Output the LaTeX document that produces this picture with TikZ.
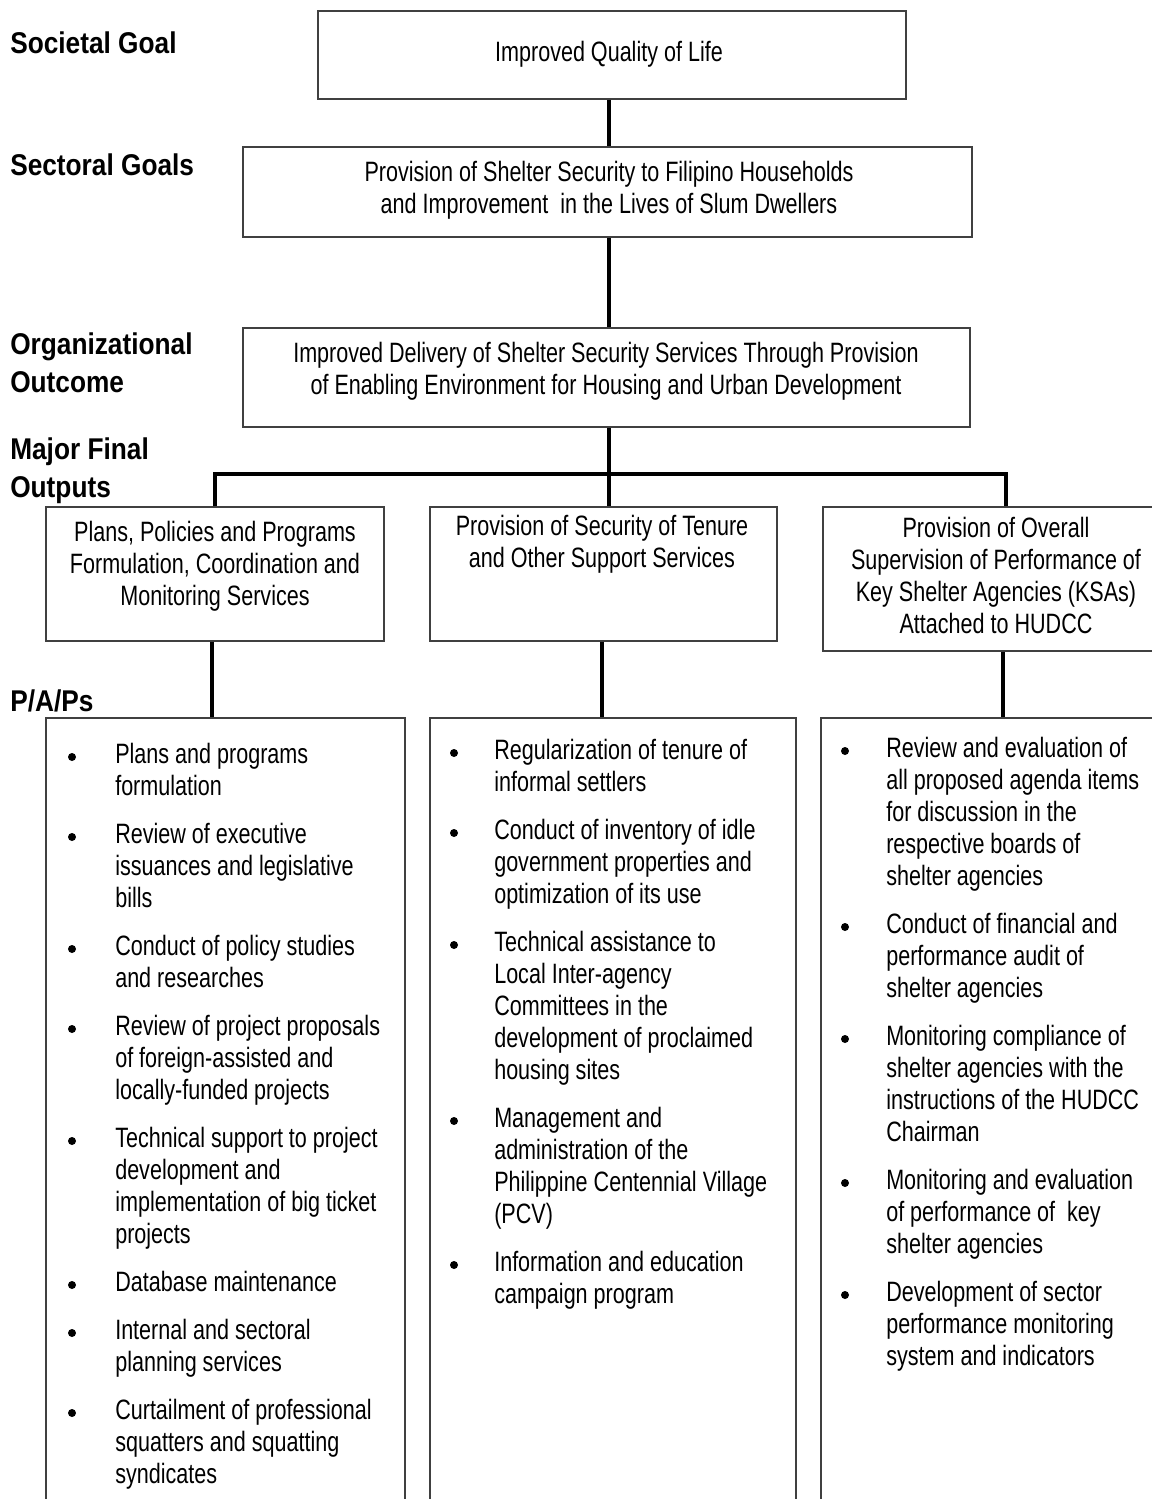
\documentclass[tikz,border=0pt]{standalone}
\usepackage{fontspec}
\setmainfont{Liberation Sans}[FakeStretch=0.77]
\newfontfamily\headfont{Liberation Sans}[FakeStretch=0.875]
\newcommand\bodyfont{\fontsize{21}{24}\selectfont}
\newcommand\hfont{\headfont\bfseries\fontsize{22.5}{29}\selectfont}
\newcommand\lft[1]{\begin{tabular}[t]{@{}l@{}}#1\end{tabular}}
\newcommand\ctr[1]{\begin{tabular}[t]{@{}c@{}}#1\end{tabular}}
\tikzset{
  box/.style={draw=black!75, line width=1.1pt, inner sep=0pt},
  conn/.style={draw=black, line width=2.3pt},
  txt/.style={anchor=base, inner sep=0pt, font=\bodyfont},
  itm/.style={anchor=base west, inner sep=0pt, font=\bodyfont},
  bul/.style={circle, fill=black, inner sep=0pt, minimum size=6pt},
  head/.style={anchor=base west, inner sep=0pt, font=\hfont},
}
\begin{document}
\begin{tikzpicture}[x=0.75pt, y=-0.75pt]
\useasboundingbox (0,0) rectangle (1152,1499);

% boxes
\node[box, minimum width=588*0.75pt, minimum height=88*0.75pt] (b1) at (612,55) {};
\node[box, minimum width=729*0.75pt, minimum height=90*0.75pt] (b2) at (607.5,192) {};
\node[box, minimum width=727*0.75pt, minimum height=99*0.75pt] (b3) at (606.5,377.5) {};
\node[box, minimum width=338*0.75pt, minimum height=134*0.75pt] (b4) at (215,574) {};
\node[box, minimum width=347*0.75pt, minimum height=134*0.75pt] (b5) at (603.5,574) {};
\node[box, minimum width=337*0.75pt, minimum height=144*0.75pt] (b6) at (991.5,579) {};
\node[box, minimum width=359*0.75pt, minimum height=800*0.75pt] (b7) at (225.5,1118) {};
\node[box, minimum width=366*0.75pt, minimum height=800*0.75pt] (b8) at (613,1118) {};
\node[box, minimum width=339*0.75pt, minimum height=800*0.75pt] (b9) at (990.5,1118) {};

% connector reference coordinates
\coordinate (trunk) at (609,0);
\coordinate (bar) at (0,474);
\coordinate (dropL) at (215,0);
\coordinate (dropR) at (1006,0);
\coordinate (lowL) at (212,0);
\coordinate (lowM) at (602,0);
\coordinate (lowR) at (1003,0);

% connectors
\draw[conn] (b1.south -| trunk) -- (b2.north -| trunk);
\draw[conn] (b2.south -| trunk) -- (b3.north -| trunk);
\draw[conn] (b3.south -| trunk) -- (b5.north -| trunk);
\draw[conn, line join=miter] (b4.north -| dropL) -- (bar -| dropL) -- (bar -| dropR) -- (b6.north -| dropR);
\draw[conn] (b4.south -| lowL) -- (b7.north -| lowL);
\draw[conn] (b5.south -| lowM) -- (b8.north -| lowM);
\draw[conn] (b6.south -| lowR) -- (b9.north -| lowR);

% headings
\node[head] (h1) at (10,53) {Societal Goal};
\node[head] (h2) at (10,175) {Sectoral Goals};
\node[head] (h3) at (10,354) {\lft{Organizational\\Outcome}};
\node[head] (h4) at (10,459) {\lft{Major Final\\Outputs}};
\node[head] (h5) at (10,711) {P/A/Ps};

% box texts
\node[txt] (t1) at (609,61) {Improved Quality of Life};
\node[txt] (t2) at (609,181) {\ctr{Provision of Shelter Security to Filipino Households\\and Improvement\ \ in the Lives of Slum Dwellers}};
\node[txt] (t3) at (606,362) {\ctr{Improved Delivery of Shelter Security Services Through Provision\\of Enabling Environment for Housing and Urban Development}};
\node[txt] (t4) at (215,541) {\ctr{Plans, Policies and Programs\\Formulation, Coordination and\\Monitoring Services}};
\node[txt] (t5) at (602,535) {\ctr{Provision of Security of Tenure\\and Other Support Services}};
\node[txt] (t6) at (996,537) {\ctr{Provision of Overall\\Supervision of Performance of\\Key Shelter Agencies (KSAs)\\Attached to HUDCC}};

% column 1 items
\node[bul] (d1a) at (72,757) {};
\node[itm] (i1a) at (115,763) {\lft{Plans and programs\\formulation}};
\node[bul] (d1b) at (72,837) {};
\node[itm] (i1b) at (115,843) {\lft{Review of executive\\issuances and legislative\\bills}};
\node[bul] (d1c) at (72,949) {};
\node[itm] (i1c) at (115,955) {\lft{Conduct of policy studies\\and researches}};
\node[bul] (d1d) at (72,1029) {};
\node[itm] (i1d) at (115,1035) {\lft{Review of project proposals\\of foreign-assisted and\\locally-funded projects}};
\node[bul] (d1e) at (72,1141) {};
\node[itm] (i1e) at (115,1147) {\lft{Technical support to project\\development and\\implementation of big ticket\\projects}};
\node[bul] (d1f) at (72,1285) {};
\node[itm] (i1f) at (115,1291) {\lft{Database maintenance}};
\node[bul] (d1g) at (72,1333) {};
\node[itm] (i1g) at (115,1339) {\lft{Internal and sectoral\\planning services}};
\node[bul] (d1h) at (72,1413) {};
\node[itm] (i1h) at (115,1419) {\lft{Curtailment of professional\\squatters and squatting\\syndicates}};

% column 2 items
\node[bul] (d2a) at (454,753) {};
\node[itm] (i2a) at (494,759) {\lft{Regularization of tenure of\\informal settlers}};
\node[bul] (d2b) at (454,833) {};
\node[itm] (i2b) at (494,839) {\lft{Conduct of inventory of idle\\government properties and\\optimization of its use}};
\node[bul] (d2c) at (454,945) {};
\node[itm] (i2c) at (494,951) {\lft{Technical assistance to\\Local Inter-agency\\Committees in the\\development of proclaimed\\housing sites}};
\node[bul] (d2d) at (454,1121) {};
\node[itm] (i2d) at (494,1127) {\lft{Management and\\administration of the\\Philippine Centennial Village\\(PCV)}};
\node[bul] (d2e) at (454,1265) {};
\node[itm] (i2e) at (494,1271) {\lft{Information and education\\campaign program}};

% column 3 items
\node[bul] (d3a) at (845,751) {};
\node[itm] (i3a) at (886,757) {\lft{Review and evaluation of\\all proposed agenda items\\for discussion in the\\respective boards of\\shelter agencies}};
\node[bul] (d3b) at (845,927) {};
\node[itm] (i3b) at (886,933) {\lft{Conduct of financial and\\performance audit of\\shelter agencies}};
\node[bul] (d3c) at (845,1039) {};
\node[itm] (i3c) at (886,1045) {\lft{Monitoring compliance of\\shelter agencies with the\\instructions of the HUDCC\\Chairman}};
\node[bul] (d3d) at (845,1183) {};
\node[itm] (i3d) at (886,1189) {\lft{Monitoring and evaluation\\of performance of\ \ key\\shelter agencies}};
\node[bul] (d3e) at (845,1295) {};
\node[itm] (i3e) at (886,1301) {\lft{Development of sector\\performance monitoring\\system and indicators}};
\end{tikzpicture}
\end{document}
